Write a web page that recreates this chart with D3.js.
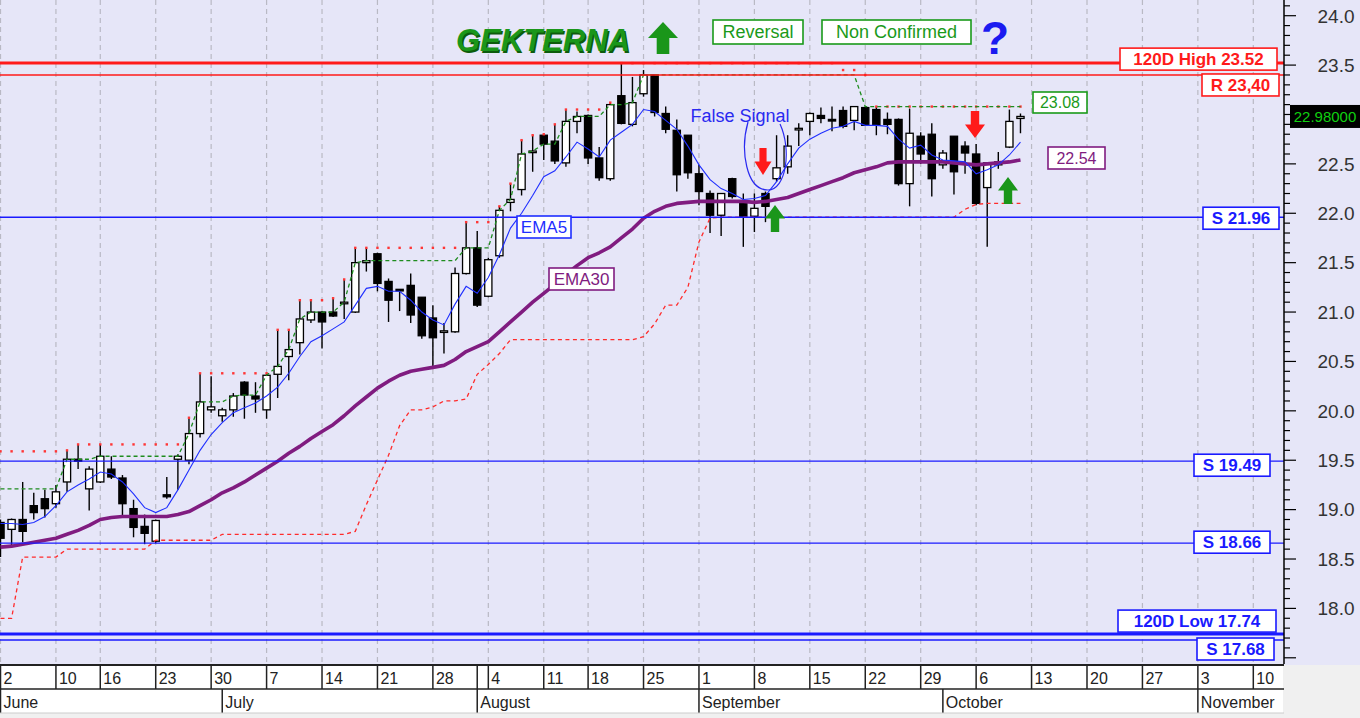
<!DOCTYPE html>
<html><head><meta charset="utf-8">
<script src="https://cdn.jsdelivr.net/npm/d3@7/dist/d3.min.js"></script>
<style>body{margin:0;background:#fff;}svg{display:block;font-family:"Liberation Sans",Arial,sans-serif;}</style>
</head><body>
<svg id="c" width="1360" height="718"></svg>
<script>
// ---------- DATA ----------
const holidays = ["2025-06-09","2025-08-15"];
const open = [18.87,18.80,18.90,19.04,19.11,19.06,19.28,19.51,19.21,19.28,
19.41,19.32,19.01,18.83,18.68,19.15,19.51,19.50,19.77,20.01,
19.95,20.01,20.29,20.15,20.01,20.37,20.55,20.69,20.92,21.00,
21.00,21.09,21.00,21.50,21.59,21.31,21.23,21.27,21.15,20.94,
20.80,20.80,21.39,21.65,21.16,21.57,22.11,22.24,22.62,22.79,
22.73,22.51,22.93,22.99,22.56,22.35,23.19,22.90,23.21,23.40,
23.01,22.84,22.79,22.40,22.20,21.98,22.35,22.12,21.97,22.20,
22.35,22.47,22.85,22.93,22.99,22.95,23.04,22.94,23.07,23.05,
22.95,22.95,22.30,22.78,22.80,22.49,22.78,22.68,22.60,22.26,
22.49,22.67,22.96];
const high = [18.90,18.91,19.28,19.17,19.20,19.25,19.60,19.66,19.44,19.66,
19.54,19.35,19.10,18.95,18.90,19.33,19.56,19.93,20.38,20.35,
20.03,20.18,20.30,20.29,20.38,20.82,20.82,21.12,21.12,21.01,
21.14,21.33,21.65,21.65,21.60,21.34,21.23,21.39,21.15,21.07,
20.89,21.45,21.91,21.82,21.55,22.07,22.30,22.74,22.79,22.80,
22.90,23.05,23.03,23.00,22.67,23.12,23.52,23.38,23.45,23.40,
23.08,22.95,22.79,22.49,22.23,22.20,22.36,22.20,22.20,22.22,
22.79,22.79,22.91,23.02,23.07,23.08,23.08,23.08,23.08,23.08,
23.02,22.96,23.06,22.82,22.91,22.64,22.78,22.73,22.70,22.51,
22.62,23.05,23.01];
const low = [18.52,18.64,18.67,18.90,18.92,19.02,19.18,19.41,18.99,19.27,
19.31,18.94,18.72,18.65,18.66,19.11,19.20,19.46,19.73,19.98,
19.89,19.94,19.92,19.98,19.92,20.13,20.31,20.57,20.89,20.63,
20.95,20.93,20.99,21.41,21.21,20.90,21.01,20.89,20.73,20.45,
20.58,20.79,21.38,21.05,21.15,21.55,22.02,22.18,22.42,22.54,
22.50,22.47,22.81,22.50,22.33,22.33,22.90,22.88,23.18,22.98,
22.81,22.22,22.35,22.08,21.80,21.77,22.15,21.66,21.81,21.91,
22.32,22.40,22.68,22.79,22.91,22.83,22.86,22.84,22.89,22.79,
22.80,22.28,22.07,22.50,22.17,22.45,22.19,22.40,22.08,21.66,
22.45,22.66,22.81];
const close = [18.71,18.90,18.78,18.97,19.01,19.18,19.51,19.49,19.41,19.54,
19.33,19.06,18.82,18.76,18.89,19.13,19.54,19.77,20.09,20.04,
20.01,20.15,20.16,20.12,20.36,20.45,20.62,20.93,21.00,20.90,
20.96,21.10,21.50,21.52,21.29,21.12,21.22,20.97,20.76,20.74,
20.81,21.39,21.65,21.07,21.53,22.03,22.14,22.60,22.63,22.70,
22.53,22.93,22.98,22.56,22.36,23.10,22.91,23.12,23.40,23.02,
22.85,22.39,22.41,22.22,21.98,22.20,22.17,21.97,22.05,22.07,
22.46,22.68,22.86,23.01,22.96,22.94,22.88,23.08,22.89,22.89,
22.90,22.30,22.81,22.60,22.35,22.61,22.42,22.61,22.10,22.51,
22.52,22.93,22.98];
const ema5 = [18.86,18.86,18.85,18.87,18.93,19.04,19.18,19.25,19.31,19.38,
19.36,19.28,19.16,19.02,18.97,19.02,19.20,19.40,19.60,19.76,
19.88,19.98,20.03,20.08,20.15,20.24,20.38,20.55,20.70,20.76,
20.83,20.90,21.07,21.24,21.26,21.21,21.21,21.12,21.00,20.92,
20.87,21.08,21.26,21.19,21.35,21.58,21.85,22.00,22.18,22.37,
22.43,22.57,22.72,22.65,22.57,22.74,22.82,22.90,23.05,23.03,
22.94,22.85,22.68,22.49,22.34,22.25,22.20,22.14,22.15,22.18,
22.32,22.50,22.66,22.75,22.81,22.86,22.88,22.93,22.89,22.89,
22.88,22.75,22.66,22.69,22.59,22.54,22.53,22.52,22.40,22.44,
22.49,22.59,22.72];
const ema30 = [18.62,18.63,18.65,18.67,18.69,18.71,18.75,18.79,18.84,18.90,
18.92,18.93,18.93,18.93,18.93,18.93,18.95,18.98,19.04,19.10,
19.17,19.22,19.28,19.35,19.42,19.49,19.57,19.64,19.72,19.79,
19.86,19.95,20.05,20.14,20.23,20.30,20.36,20.40,20.42,20.44,
20.46,20.52,20.60,20.65,20.70,20.80,20.90,21.00,21.10,21.19,
21.28,21.38,21.47,21.55,21.60,21.66,21.75,21.84,21.95,22.02,
22.07,22.10,22.11,22.12,22.12,22.12,22.12,22.12,22.11,22.12,
22.14,22.16,22.20,22.24,22.28,22.32,22.36,22.41,22.44,22.47,
22.51,22.52,22.52,22.52,22.52,22.52,22.51,22.50,22.49,22.50,
22.51,22.52,22.54];
const highestClose = [19.21,19.21,19.21,19.21,19.21,19.21,19.51,19.51,19.51,19.54,
19.54,19.54,19.54,19.54,19.54,19.54,19.54,19.77,20.09,20.09,
20.09,20.15,20.16,20.16,20.36,20.45,20.62,20.93,21.00,21.00,
21.00,21.10,21.50,21.52,21.52,21.52,21.52,21.52,21.52,21.52,
21.52,21.52,21.65,21.65,21.65,22.03,22.14,22.60,22.63,22.70,
22.70,22.93,22.98,22.98,22.98,23.10,23.10,23.12,23.40,23.40,
23.40,23.40,23.40,23.40,23.40,23.40,23.40,23.40,23.40,23.40,
23.40,23.40,23.40,23.40,23.40,23.40,23.40,23.40,23.08,23.08,
23.08,23.08,23.08,23.08,23.08,23.08,23.08,23.08,23.08,23.08,
23.08,23.08,23.08];
const highestHigh = [19.59,19.59,19.59,19.59,19.59,19.59,19.60,19.66,19.66,19.66,
19.66,19.66,19.66,19.66,19.66,19.66,19.66,19.93,20.38,20.38,
20.38,20.38,20.38,20.38,20.38,20.82,20.82,21.12,21.12,21.12,
21.14,21.33,21.65,21.65,21.65,21.65,21.65,21.65,21.65,21.65,
21.65,21.65,21.91,21.91,21.91,22.07,22.30,22.74,22.79,22.80,
22.90,23.05,23.05,23.05,23.05,23.12,23.52,23.52,23.52,23.52,
23.52,23.52,23.52,23.52,23.52,23.52,23.52,23.52,23.52,23.52,
23.52,23.52,23.52,23.52,23.52,23.52,23.45,23.45,23.40,23.08,
23.08,23.08,23.08,23.08,23.08,23.08,23.08,23.08,23.08,23.08,
23.08,23.08,23.08];
const trailingStop = [17.90,17.90,18.52,18.52,18.52,18.52,18.60,18.60,18.60,18.60,
18.60,18.60,18.60,18.60,18.69,18.69,18.69,18.69,18.69,18.69,
18.75,18.75,18.75,18.75,18.75,18.75,18.75,18.75,18.75,18.75,
18.75,18.75,18.78,19.05,19.30,19.55,19.85,20.01,20.01,20.04,
20.10,20.10,20.12,20.37,20.47,20.58,20.72,20.72,20.72,20.72,
20.72,20.72,20.72,20.72,20.72,20.72,20.72,20.72,20.75,20.88,
21.07,21.07,21.25,21.71,21.95,21.96,21.96,21.96,21.96,21.96,
21.96,21.96,21.96,21.96,21.96,21.96,21.96,21.96,21.96,21.96,
21.96,21.96,21.96,21.96,21.96,21.96,21.96,22.04,22.09,22.10,
22.10,22.10,22.10];
const levelLabels = ["120D High 23.52","R 23,40","S 21.96","S 19.49","S 18.66","120D Low 17.74","S 17.68"];
const levelValues = [23.52,23.40,21.96,19.49,18.66,17.74,17.68];
const tickDates = ["2025-06-02","2025-06-10","2025-06-16","2025-06-23","2025-06-30","2025-07-07","2025-07-14","2025-07-21","2025-07-28","2025-08-04","2025-08-11","2025-08-18","2025-08-25","2025-09-01","2025-09-08","2025-09-15","2025-09-22","2025-09-29","2025-10-06","2025-10-13","2025-10-20","2025-10-27","2025-11-03","2025-11-10"];
const tickLabels = ["2","10","16","23","30","7","14","21","28","4","11","18","25","1","8","15","22","29","6","13","20","27","3","10"];
const monthDates = ["2025-06-02","2025-07-01","2025-08-01","2025-09-01","2025-10-01","2025-11-03"];
const monthLabels = ["June","July","August","September","October","November"];
const yTickValues = [18.0,18.5,19.0,19.5,20.0,20.5,21.0,21.5,22.0,22.5,23.0,23.5,24.0];
const lastPrice = 22.98;
const ema30Last = 22.54, closeHighLast = 23.08;

// ---------- CALENDAR ----------
const calendar = [];
for (let d = new Date(Date.UTC(2025,5,2)); d <= new Date(Date.UTC(2025,10,14)); d.setUTCDate(d.getUTCDate()+1)) {
  const wd = d.getUTCDay(); const s = d.toISOString().slice(0,10);
  if (wd !== 0 && wd !== 6 && !holidays.includes(s)) calendar.push(s);
}
const idx = s => calendar.indexOf(s);

// ---------- SCALES ----------
const AXIS_X = 1284, PLOT_B = 664;
const x = d3.scaleLinear().domain([0,113]).range([0.5,1253.3]);
const y = d3.scaleLinear().domain([18,24]).range([608.4,15.7]);
const svg = d3.select("#c");
const defs = svg.append("defs");
defs.append("clipPath").attr("id","pc").append("rect").attr("x",0).attr("y",0).attr("width",AXIS_X).attr("height",PLOT_B);
defs.append("clipPath").attr("id","dc").append("rect").attr("x",0).attr("y",PLOT_B).attr("width",AXIS_X-1).attr("height",60);

svg.append("rect").attr("width",1360).attr("height",718).attr("fill","#f0f0f0");
svg.append("rect").attr("width",1360).attr("height",665).attr("fill","#e6e6f8");

const plot = svg.append("g").attr("clip-path","url(#pc)");
// grid
plot.selectAll("line.grid").data(tickDates).join("line")
  .attr("x1",d=>x(idx(d))).attr("x2",d=>x(idx(d))).attr("y1",0).attr("y2",PLOT_B)
  .attr("stroke","#b9b9c4").attr("stroke-width",1.2).attr("stroke-dasharray","5,4");

// candles
const I = d3.range(close.length);
plot.selectAll("line.wick").data(I).join("line")
  .attr("x1",i=>x(i)).attr("x2",i=>x(i)).attr("y1",i=>y(high[i])).attr("y2",i=>y(low[i]))
  .attr("stroke","#000").attr("stroke-width",1.4);
plot.selectAll("rect.body").data(I).join("rect")
  .attr("x",i=>x(i)-3.6).attr("width",7.2)
  .attr("y",i=>y(Math.max(open[i],close[i])))
  .attr("height",i=>Math.max(1.6,Math.abs(y(open[i])-y(close[i]))))
  .attr("fill",i=>close[i]>=open[i]?"#ffffff":"#000000")
  .attr("stroke","#000").attr("stroke-width",1.3);

const line = d3.line().x((d,i)=>x(i)).y(d=>y(d));
plot.append("path").attr("d",line(trailingStop)).attr("fill","none").attr("stroke","#ff2b2b").attr("stroke-width",1.3).attr("stroke-dasharray","4,3.5");
plot.selectAll("rect.hh").data(highestHigh).join("rect")
  .attr("x",(d,i)=>x(i)-1.2).attr("y",d=>y(d)-1.2).attr("width",2.4).attr("height",2.4).attr("fill","#ff3636");
plot.append("path").attr("d",line(highestClose)).attr("fill","none").attr("stroke","#1e8c1e").attr("stroke-width",1.3).attr("stroke-dasharray","4,3");
plot.append("path").attr("d",line(ema30)).attr("fill","none").attr("stroke","#801c80").attr("stroke-width",3.6).attr("stroke-linejoin","round");
plot.append("path").attr("d",line(ema5)).attr("fill","none").attr("stroke","#1f2fff").attr("stroke-width",1.1);

// level lines
const levelColor = ["#ff1a1a","#ff1a1a","#1a1aff","#1a1aff","#1a1aff","#1a1aff","#1a1aff"];
const levelWidth = [3,1.5,1.6,1.3,1.3,3,1.3];
plot.selectAll("line.lvl").data(levelValues).join("line")
  .attr("x1",0).attr("x2",AXIS_X).attr("y1",d=>y(d)).attr("y2",d=>y(d))
  .attr("stroke",(d,i)=>levelColor[i]).attr("stroke-width",(d,i)=>levelWidth[i]);

// boxes
function box(x0,y0,w,h,txt,col,opts={}){
  const g = svg.append("g");
  g.append("rect").attr("x",x0).attr("y",y0).attr("width",w).attr("height",h)
    .attr("fill",opts.fill||"#fff").attr("stroke",col).attr("stroke-width",opts.sw||1.6);
  g.append("text").attr("x",x0+w/2).attr("y",y0+h/2).attr("dy","0.36em").attr("text-anchor","middle")
    .attr("font-size",opts.fs||17).attr("font-weight",opts.bold?"bold":"normal").attr("fill",col).text(txt);
}
// level label layout: [right edge, width, vertical offset]
const lvlBox = [[1277,157,-4],[1279,77,10],[1279,76,1],[1270,76,4],[1270,76,-1],[1276,158,-13],[1274,77,9]];
levelValues.forEach((v,i)=>{
  const [r,w,dy] = lvlBox[i];
  box(r-w, y(v)-11+dy, w, 22, levelLabels[i], levelColor[i], {bold:true, fs:17});
});

box(517,216,54,22,"EMA5","#1f2fff",{fs:17});
box(549,268,65,22,"EMA30","#801c80",{fs:17});
box(1033,92,54,21,closeHighLast.toFixed(2),"#1a9a1a",{fs:16});
box(1048,147,57,22,ema30Last.toFixed(2),"#801c80",{fs:16});
box(713,20,90,24,"Reversal","#1a9a1a",{fs:18});
box(822,20,149,24,"Non Confirmed","#1a9a1a",{fs:18});

// y axis
svg.append("line").attr("x1",AXIS_X).attr("x2",AXIS_X).attr("y1",0).attr("y2",PLOT_B).attr("stroke","#000").attr("stroke-width",1.5);
const minor = d3.range(175,242).map(k=>k/10);
svg.selectAll("line.minor").data(minor).join("line")
  .attr("x1",AXIS_X).attr("x2",d=>AXIS_X+(Math.round(d*10)%5===0?12:6)).attr("y1",d=>y(d)).attr("y2",d=>y(d))
  .attr("stroke","#000").attr("stroke-width",1.2);
// labels hidden behind the last-price box are not drawn
svg.selectAll("text.yt").data(yTickValues.filter(v=>Math.abs(y(v)-y(lastPrice))>14)).join("text")
  .attr("x",1336).attr("y",d=>y(d)).attr("dy","0.36em").attr("text-anchor","middle")
  .attr("font-size",19).attr("fill","#333").text(d=>d.toFixed(1));
// last price
svg.append("rect").attr("x",1290).attr("y",y(lastPrice)-11.5).attr("width",72).attr("height",23).attr("fill","#000");
svg.append("text").attr("x",1325).attr("y",y(lastPrice)).attr("dy","0.36em").attr("text-anchor","middle")
  .attr("font-size",15).attr("fill","#10d010").text(lastPrice.toFixed(5));

// annotations
svg.append("text").attr("x",456).attr("y",51).attr("font-size",31).attr("font-weight","bold").attr("font-style","italic")
  .attr("fill","#0d5c0d").attr("transform","translate(1.5,1.5)").text("GEKTERNA");
svg.append("text").attr("x",456).attr("y",51).attr("font-size",31).attr("font-weight","bold").attr("font-style","italic")
  .attr("fill","#1a961a").text("GEKTERNA");
function arrow(cx,top,w,h,up,col){
  const hh=h*0.5, sw=w*0.42;
  let p;
  if(up) p=[[cx,top],[cx+w/2,top+hh],[cx+sw/2,top+hh],[cx+sw/2,top+h],[cx-sw/2,top+h],[cx-sw/2,top+hh],[cx-w/2,top+hh]];
  else p=[[cx,top+h],[cx+w/2,top+h-hh],[cx+sw/2,top+h-hh],[cx+sw/2,top],[cx-sw/2,top],[cx-sw/2,top+h-hh],[cx-w/2,top+h-hh]];
  svg.append("path").attr("d","M"+p.map(q=>q.join(",")).join("L")+"Z").attr("fill",col);
}
arrow(663,22,30,32,true,"#1a961a");
svg.append("text").attr("x",995).attr("y",54).attr("text-anchor","middle").attr("font-size",46).attr("font-weight","bold").attr("fill","#1b1bf0").text("?");
svg.append("text").attr("x",740).attr("y",122).attr("text-anchor","middle").attr("font-size",18).attr("fill","#2a2af0").text("False Signal");
svg.append("path").attr("d","M748,122 C740,150 746,190 768,190 C786,190 792,150 780,124").attr("fill","none").attr("stroke","#2a2af0").attr("stroke-width",1.2);
arrow(763,148,17,27,false,"#ff1a1a");
arrow(975,111,20,27,false,"#ff1a1a");
arrow(775,205,20,27,true,"#1a961a");
arrow(1008,177,20,27,true,"#1a961a");

// date axis
const dg = svg.append("g").attr("clip-path","url(#dc)");
dg.append("rect").attr("x",0).attr("y",665).attr("width",AXIS_X).attr("height",48).attr("fill","#fff");
dg.selectAll("line.tk").data(tickDates).join("line")
  .attr("x1",d=>x(idx(d))).attr("x2",d=>x(idx(d))).attr("y1",665).attr("y2",689).attr("stroke","#222").attr("stroke-width",1.5);
dg.append("line").attr("x1",x(idx("2025-08-01"))).attr("x2",x(idx("2025-08-01"))).attr("y1",665).attr("y2",689).attr("stroke","#222").attr("stroke-width",1.5);
dg.selectAll("text.tk").data(tickDates).join("text")
  .attr("x",d=>x(idx(d))+3).attr("y",684).attr("font-size",16).attr("fill","#222").text((d,i)=>tickLabels[i]);
dg.selectAll("line.mo").data(monthDates).join("line")
  .attr("x1",d=>x(idx(d))).attr("x2",d=>x(idx(d))).attr("y1",689).attr("y2",713).attr("stroke","#222").attr("stroke-width",1.5);
dg.selectAll("text.mo").data(monthDates).join("text")
  .attr("x",d=>x(idx(d))+3).attr("y",708).attr("font-size",16).attr("fill","#222").text((d,i)=>monthLabels[i]);
svg.append("line").attr("x1",0).attr("x2",AXIS_X).attr("y1",665).attr("y2",665).attr("stroke","#222").attr("stroke-width",1.8);
svg.append("line").attr("x1",0).attr("x2",AXIS_X).attr("y1",689).attr("y2",689).attr("stroke","#222").attr("stroke-width",1.5);
svg.append("line").attr("x1",0).attr("x2",AXIS_X).attr("y1",713).attr("y2",713).attr("stroke","#ccc").attr("stroke-width",1);
</script>
</body></html>
